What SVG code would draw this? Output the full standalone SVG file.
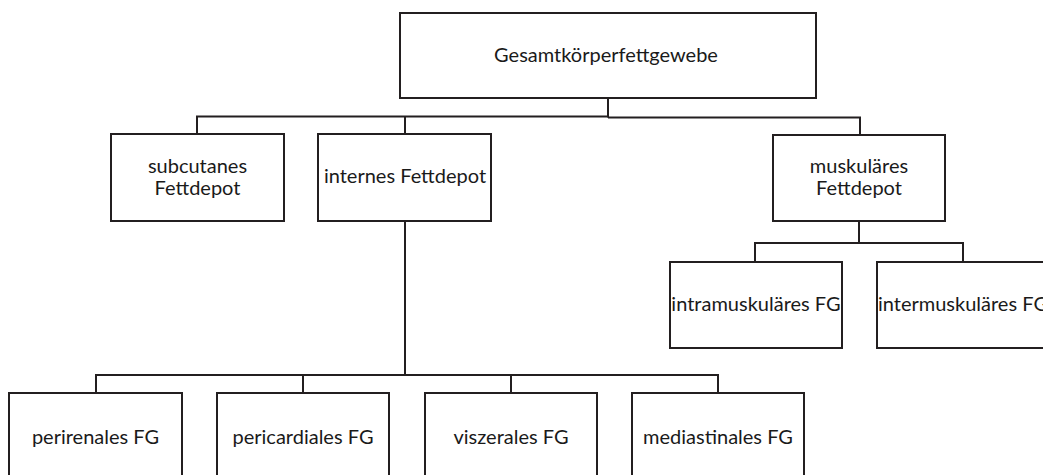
<svg xmlns="http://www.w3.org/2000/svg" width="1043" height="475" viewBox="0 0 1043 475">
<style>
.box{fill:#fff;stroke:#231f20;stroke-width:2}
.con{fill:none;stroke:#231f20;stroke-width:2}
text{font-family:Lato,"Liberation Sans",sans-serif;font-size:20px;fill:#1a1a1a;text-anchor:middle}
</style>
<rect width="1043" height="475" fill="#fff"/>
<g id="connectors">
<path class="con" d="M608 98V117.5"/>
<path class="con" d="M608 116.5H197V134"/>
<path class="con" d="M405 116.5V134"/>
<path class="con" d="M608 117.5H860V135"/>
<path class="con" d="M405 221V375"/>
<path class="con" d="M96 393V375H718V393"/>
<path class="con" d="M303 375V393"/>
<path class="con" d="M511 375V393"/>
<path class="con" d="M859 221V243"/>
<path class="con" d="M755 262V243H963V262"/>
</g>
<g id="n-gesamt"><rect class="box" x="400" y="13" width="416" height="85"/><text x="606" y="62">Gesamtkörperfettgewebe</text></g>
<g id="n-subcutanes"><rect class="box" x="111" y="134" width="173" height="87"/><text x="197.5" y="173">subcutanes</text><text x="197.5" y="195">Fettdepot</text></g>
<g id="n-internes"><rect class="box" x="318" y="134" width="173" height="87"/><text x="405" y="183">internes Fettdepot</text></g>
<g id="n-muskulaeres"><rect class="box" x="773" y="135" width="172" height="86"/><text x="859" y="173">muskuläres</text><text x="859" y="195">Fettdepot</text></g>
<g id="n-intra"><rect class="box" x="670" y="262" width="172" height="86"/><text x="756" y="311">intramuskuläres FG</text></g>
<g id="n-inter"><rect class="box" x="877" y="262" width="172" height="86"/><text x="963" y="311">intermuskuläres FG</text></g>
<g id="n-perirenales"><rect class="box" x="9" y="393" width="173" height="100"/><text x="95.5" y="444">perirenales FG</text></g>
<g id="n-pericardiales"><rect class="box" x="217" y="393" width="172" height="100"/><text x="303" y="444">pericardiales FG</text></g>
<g id="n-viszerales"><rect class="box" x="425" y="393" width="172" height="100"/><text x="511" y="444">viszerales FG</text></g>
<g id="n-mediastinales"><rect class="box" x="632" y="393" width="172" height="100"/><text x="718" y="444">mediastinales FG</text></g>
</svg>
